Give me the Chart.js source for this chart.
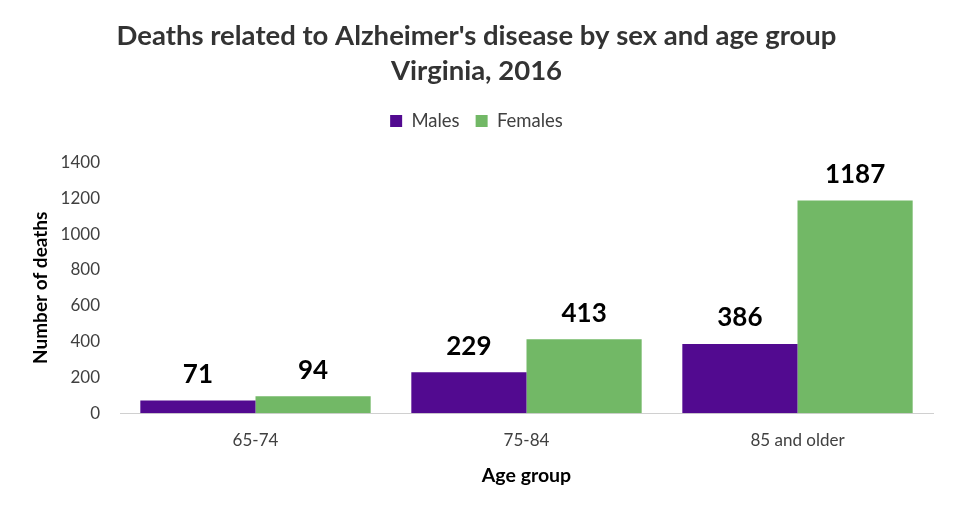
<!DOCTYPE html>
<html><head><meta charset="utf-8">
<script src="https://cdn.jsdelivr.net/npm/chart.js@4"></script>
<style>html,body{margin:0;padding:0;background:#fff}#wrap{width:956px;height:510px}</style>
</head><body><div id="wrap"><canvas id="c" width="956" height="510"></canvas></div>
<script>
const categories = ["65-74", "75-84", "85 and older"];
const males = [71, 229, 386];
const females = [94, 413, 1187];
const seriesNames = ["Males", "Females"];
const titleLines = ["Deaths related to Alzheimer's disease by sex and age group", "Virginia, 2016"];
const FONT = "Lato, 'Open Sans', sans-serif";

const labelPlugin = {
  id: 'valLabels',
  afterDatasetsDraw(chart) {
    const ctx = chart.ctx;
    ctx.save();
    ctx.font = "bold 26px " + FONT;
    ctx.fillStyle = "#000";
    ctx.textAlign = "center";
    ctx.textBaseline = "middle";
    chart.data.datasets.forEach((ds, i) => {
      chart.getDatasetMeta(i).data.forEach((bar, j) => {
        ctx.fillText(String(ds.data[j]), bar.x, bar.y - 26);
      });
    });
    ctx.restore();
  }
};

const legendSpacer = {
  id: 'legendSpacer',
  beforeInit(chart) {
    const lg = chart.legend;
    if (!lg) return;
    const fit = lg.fit;
    lg.fit = function () { fit.call(this); this.height += 22; };
  }
};

new Chart(document.getElementById('c'), {
  type: 'bar',
  data: {
    labels: categories,
    datasets: [
      {label: seriesNames[0], data: males, backgroundColor: '#520A90'},
      {label: seriesNames[1], data: females, backgroundColor: '#72B866'}
    ]
  },
  plugins: [labelPlugin, legendSpacer],
  options: {
    responsive: false,
    animation: false,
    layout: {padding: {left: 20, right: 23, top: 4, bottom: 19}},
    datasets: {bar: {categoryPercentage: 0.85, barPercentage: 1.0}},
    plugins: {
      title: {display: true, text: titleLines, color: '#333333', font: {family: FONT, size: 27.5, weight: 'bold', lineHeight: 1.27}, padding: {top: 15, bottom: 7}},
      legend: {position: 'top', labels: {color: '#404040', font: {family: FONT, size: 18.5}, boxWidth: 12, boxHeight: 12, padding: 16}},
      tooltip: {enabled: false}
    },
    scales: {
      x: {
        grid: {display: false, drawTicks: false},
        border: {display: true, color: '#D0D0D0', width: 1},
        ticks: {color: '#404040', font: {family: FONT, size: 17}, padding: 17},
        title: {display: true, text: 'Age group', color: '#000', font: {family: FONT, size: 19.5, weight: 'bold'}, padding: {top: -4}}
      },
      y: {
        min: 0, max: 1400,
        afterFit(scale) { scale.width = 100; },
        grid: {display: false, drawTicks: false},
        border: {display: false},
        ticks: {stepSize: 200, color: '#404040', font: {family: FONT, size: 17}, padding: 20,
          callback: v => String(v)},
        title: {display: true, text: 'Number of deaths', color: '#000', font: {family: FONT, size: 19, weight: 'bold'}, padding: {top: 9, bottom: 0}}
      }
    }
  }
});
</script></body></html>
